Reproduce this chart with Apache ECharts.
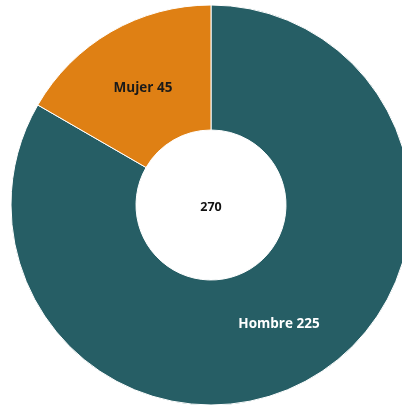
<!DOCTYPE html>
<html>
<head>
<meta charset="utf-8">
<script src="https://cdn.jsdelivr.net/npm/echarts@6/dist/echarts.min.js"></script>
<style>
html,body{margin:0;padding:0;background:#fff;}
#chart{width:402px;height:406px;}
</style>
</head>
<body>
<div id="chart"></div>
<script>
const categories = ['Hombre', 'Mujer'];
const values = [225, 45];
const colors = ['#265e65', '#df8014'];
const labelColors = ['#ffffff', '#1a1a1a'];
const total = values.reduce((a, b) => a + b, 0);

const chart = echarts.init(document.getElementById('chart'));
chart.setOption({
  animation: false,
  graphic: [{
    type: 'text',
    x: 211,
    y: 207,
    z: 10,
    silent: true,
    style: {
      text: String(total),
      fontFamily: 'Open Sans',
      fontWeight: 'bold',
      fontSize: 12.5,
      fill: '#111',
      align: 'center',
      verticalAlign: 'middle'
    }
  }],
  series: [{
    type: 'pie',
    center: [211, 205],
    radius: [75, 200],
    startAngle: 90,
    clockwise: true,
    itemStyle: { borderColor: '#ffffff', borderWidth: 1 },
    label: { show: false },
    labelLine: { show: false },
    emphasis: { disabled: true },
    data: categories.map((c, i) => ({
      name: c,
      value: values[i],
      itemStyle: { color: colors[i] }
    }))
  }, {
    type: 'pie',
    center: [211, 206],
    radius: [70, 196],
    startAngle: 90,
    clockwise: true,
    silent: true,
    z: 3,
    itemStyle: { color: 'rgba(0,0,0,0)', borderWidth: 0 },
    label: {
      show: true,
      position: 'inside',
      fontFamily: 'Open Sans',
      fontWeight: 'bold',
      fontSize: 13.5,
      formatter: p => p.name + ' ' + p.value
    },
    labelLine: { show: false },
    emphasis: { disabled: true },
    data: categories.map((c, i) => ({
      name: c,
      value: values[i],
      label: { color: labelColors[i] }
    }))
  }]
});
</script>
</body>
</html>
